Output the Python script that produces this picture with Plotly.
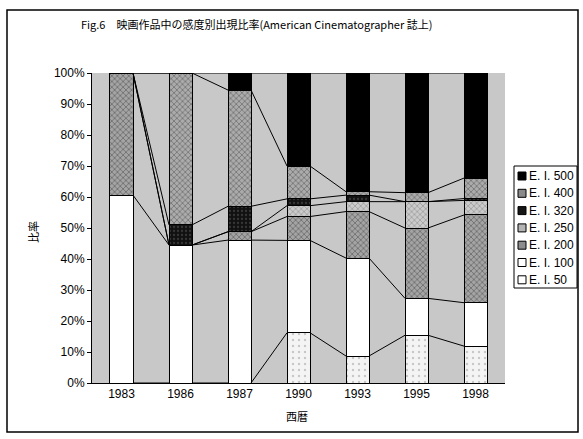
import plotly.graph_objects as go

# Share of each exposure index (E.I.) among film titles, by year (percent)
years = ["1983", "1986", "1987", "1990", "1993", "1995", "1998"]
series_names = ["E. I. 50", "E. I. 100", "E. I. 200", "E. I. 250", "E. I. 320", "E. I. 400", "E. I. 500"]

ei50 = [0.0, 0.0, 0.0, 16.2, 8.7, 15.4, 11.9]
ei100 = [60.6, 44.5, 46.1, 29.8, 31.6, 11.9, 14.0]
ei200 = [39.4, 0.0, 2.7, 7.7, 15.0, 22.7, 28.3]
ei250 = [0.0, 0.0, 0.0, 3.5, 3.2, 8.5, 4.7]
ei320 = [0.0, 6.5, 8.2, 2.2, 2.1, 0.0, 0.6]
ei400 = [0.0, 49.0, 37.5, 10.6, 1.1, 2.9, 6.6]
ei500 = [0.0, 0.0, 5.5, 30.0, 38.3, 38.6, 33.9]

values = [ei50, ei100, ei200, ei250, ei320, ei400, ei500]

yticks = [0, 10, 20, 30, 40, 50, 60, 70, 80, 90, 100]
ytick_labels = [f"{v}%" for v in yticks]

# Fill styles, bottom of stack to top
styles = [
    dict(color="#ffffff", pattern=dict(shape=".", fgcolor="#9a9a9a", bgcolor="#f4f4f4", size=6, solidity=0.12)),
    dict(color="#ffffff"),
    dict(color="#8c8c8c", pattern=dict(shape="x", fgcolor="#2e2e2e", bgcolor="#a4a4a4", size=4, solidity=0.35)),
    dict(color="#b4b4b4", pattern=dict(shape="x", fgcolor="#5a5a5a", bgcolor="#cbcbcb", size=4, solidity=0.3)),
    dict(color="#151515", pattern=dict(shape=".", fgcolor="#5c5c5c", bgcolor="#111111", size=4, solidity=0.25)),
    dict(color="#8a8a8a", pattern=dict(shape="x", fgcolor="#333333", bgcolor="#ababab", size=4, solidity=0.35)),
    dict(color="#000000"),
]

bar_width = 0.39
xpos = list(range(len(years)))

fig = go.Figure()

for name, vals, st in zip(series_names, values, styles):
    marker = dict(color=st["color"], line=dict(color="#000000", width=1))
    if "pattern" in st:
        marker["pattern"] = st["pattern"]
    fig.add_trace(go.Bar(
        x=xpos, y=vals, name=name, width=bar_width,
        marker=marker, showlegend=False,
    ))

# Series lines joining the top of each segment between neighbouring bars
cum = [0.0] * len(years)
for vals in values:
    cum = [c + v for c, v in zip(cum, vals)]
    lx, ly = [], []
    for i in range(len(years) - 1):
        lx += [xpos[i] + bar_width / 2, xpos[i + 1] - bar_width / 2, None]
        ly += [cum[i], cum[i + 1], None]
    fig.add_trace(go.Scatter(
        x=lx, y=ly, mode="lines", line=dict(color="#000000", width=1),
        showlegend=False, hoverinfo="skip",
    ))

tick_font = dict(family="Liberation Sans Narrow, Arial Narrow, Liberation Sans, Arial, sans-serif",
                 size=12, color="#000000")
legend_font = dict(family="Liberation Sans Narrow, Arial Narrow, Liberation Sans, Arial, sans-serif",
                   size=12, color="#000000")
cjk_font = dict(family="Noto Sans CJK JP, sans-serif", size=11, color="#000000")

# Plot area in pixels, used to place paper-referenced legend items
PL, PR, PT, PB = 92, 505, 73, 383


def px_x(px):
    return (px - PL) / (PR - PL)


def px_y(py):
    return (PB - py) / (PB - PT)


shapes = [
    # outer frame of the chart
    dict(type="rect", xref="paper", yref="paper",
         x0=px_x(7), x1=px_x(578), y0=px_y(432), y1=px_y(10),
         line=dict(color="#000000", width=1.5), fillcolor="rgba(0,0,0,0)", layer="below"),
    # legend box
    dict(type="rect", xref="paper", yref="paper",
         x0=px_x(514), x1=px_x(577), y0=px_y(288), y1=px_y(166),
         line=dict(color="#000000", width=1), fillcolor="#ffffff"),
]
annotations = [
    dict(text="Fig.6　映画作品中の感度別出現比率(American Cinematographer 誌上)",
         xref="paper", yref="paper", x=px_x(256), y=px_y(24),
         xanchor="center", yanchor="middle", showarrow=False, font=cjk_font),
    dict(text="比率", xref="paper", yref="paper", x=px_x(33), y=px_y(232),
         xanchor="center", yanchor="middle", showarrow=False, textangle=-90, font=cjk_font),
    dict(text="西暦", xref="paper", yref="paper", x=px_x(297), y=px_y(416),
         xanchor="center", yanchor="middle", showarrow=False, font=cjk_font),
]

# Legend entries: top of the stack listed first
row_h = 17.3
for k, idx in enumerate(reversed(range(len(series_names)))):
    cy = 176 + k * row_h
    shapes.append(dict(type="rect", xref="paper", yref="paper",
                       x0=px_x(518), x1=px_x(526), y0=px_y(cy + 4), y1=px_y(cy - 4),
                       line=dict(color="#000000", width=1), fillcolor=styles[idx]["color"]))
    annotations.append(dict(text=series_names[idx], xref="paper", yref="paper",
                            x=px_x(527), y=px_y(cy), xanchor="left", yanchor="middle",
                            showarrow=False, font=legend_font))

fig.update_layout(
    width=583, height=439,
    margin=dict(l=PL, r=583 - PR, t=PT, b=439 - PB),
    paper_bgcolor="#ffffff",
    plot_bgcolor="#c8c8c8",
    barmode="stack",
    showlegend=False,
    xaxis=dict(
        tickmode="array", tickvals=xpos, ticktext=years,
        range=[-0.5, len(years) - 0.5],
        showgrid=False, zeroline=False,
        showline=True, linecolor="#000000", linewidth=1,
        tickfont=tick_font, ticks="",
    ),
    yaxis=dict(
        range=[0, 100], tickmode="array", tickvals=yticks, ticktext=ytick_labels,
        showgrid=False, zeroline=False,
        showline=True, linecolor="#000000", linewidth=1,
        ticks="outside", ticklen=4, tickcolor="#000000",
        tickfont=tick_font,
    ),
    shapes=shapes,
    annotations=annotations,
)

fig.write_html("out.html")
